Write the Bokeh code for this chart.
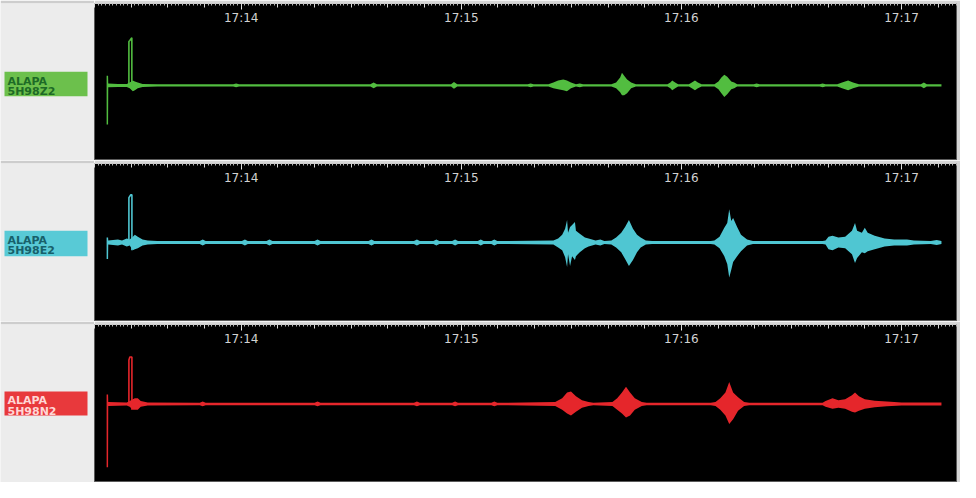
from bokeh.plotting import figure
from bokeh.layouts import column, row
from bokeh.models import (Range1d, LinearAxis, FixedTicker, Label,
                          BoxAnnotation, ColumnDataSource)
from bokeh.embed import file_html
from bokeh.resources import INLINE

# ---------------- time axis (seconds after 17:13:00) ----------------
x_start, x_end = 20.0, 255.0
minute_ticks = [60, 120, 180, 240]
minute_labels = ["17:14", "17:15", "17:16", "17:17"]
ten_sec_ticks = list(range(20, 256, 10))
one_sec_ticks = list(range(20, 256))

station = "ALAPA"
channels = ["5H98Z2", "5H98E2", "5H98N2"]

# ---------------- channel Z (green): envelope ----------------
z_t = [23.30, 23.70, 23.75, 26.4, 28.8, 29.6, 30.45, 31.0, 31.8, 33.1, 37.1,
       57.8, 58.6, 59.4, 95.2, 96.1, 97.0, 117.2, 118.0, 118.9, 138.1, 138.9, 139.7,
       143.75, 145.1, 146.4, 147.8, 148.8, 149.9, 151.25, 152.3, 153.2,
       160.9, 162.2, 163.3, 163.8, 164.4, 165.2, 166.3, 167.6,
       176.2, 177.0, 177.5, 178.3, 179.1,
       182.05, 182.85, 183.7, 184.5, 185.5,
       189.0, 190.1, 190.9, 191.7, 192.5, 193.6, 194.4, 195.2,
       199.7, 200.5, 201.3, 217.7, 218.5, 219.3,
       222.5, 223.8, 225.45, 226.8, 228.4,
       245.3, 246.1, 246.9, 250.9]
z_up = [10, 10, 2, 1.5, 1.5, 3, 5, 4, 3, 1.5, 1.2,
        1.2, 2, 1.2, 1.2, 3, 1.2, 1.2, 3.5, 1.2, 1.2, 2, 1.2,
        1.2, 3, 5, 6, 5, 3, 1.2, 2, 1.2,
        1.2, 3, 8, 13, 10, 6, 3, 1.2,
        1.2, 3, 5, 3, 1.2,
        1.2, 3, 5, 3, 1.2,
        1.2, 4, 8, 11, 9, 4, 3, 1.2,
        1.2, 2, 1.2, 1.2, 2, 1.2,
        1.2, 3, 5, 3, 1.2,
        1.2, 3, 1.2, 1.2]
z_dn = [40, 40, 2, 1.5, 1.5, 3, 6, 5, 3, 1.5, 1.2,
        1.2, 2, 1.2, 1.2, 3, 1.2, 1.2, 3.5, 1.2, 1.2, 2, 1.2,
        1.2, 3, 4, 5, 6, 3, 1.2, 2, 1.2,
        1.2, 3, 7, 10, 10, 8, 3, 1.2,
        1.2, 3, 5, 3, 1.2,
        1.2, 3, 5, 3, 1.2,
        1.2, 4, 8, 12, 9, 4, 3, 1.2,
        1.2, 2, 1.2, 1.2, 2, 1.2,
        1.2, 3, 5, 3, 1.2,
        1.2, 3, 1.2, 1.2]
z_pulse_t = [29.38, 29.38, 29.64, 30.18, 30.18]
z_pulse_a = [0, 45, 46, 49, -4]

# ---------------- channel E (cyan) ----------------
e_t = [23.30, 23.70, 23.75, 26.4, 27.5, 28.8, 29.6, 30.45, 31.0, 31.8, 33.1, 34.5, 37.1,
       48.7, 49.5, 50.3, 60.2, 61.0, 61.8, 66.9, 67.7, 68.5, 80.0, 80.8, 81.6,
       94.7, 95.5, 96.3, 107.1, 107.9, 108.7, 112.4, 113.2, 114.0, 117.5, 118.3, 119.1,
       124.5, 125.3, 126.1, 128.2, 129.0, 129.8,
       145.1, 146.4, 147.5, 148.3, 148.84, 149.1, 149.65, 150.2, 150.98, 151.25,
       152.3, 153.7, 154.7, 156.6, 157.9, 159.0,
       160.9, 162.2, 163.6, 164.65, 165.7, 166.8, 167.9, 168.9, 170.3, 172.0,
       188.0, 189.0, 190.4, 191.7, 192.5, 193.04, 193.6, 194.1, 195.2, 196.25, 197.9, 199.5,
       218.5, 219.3, 220.1, 221.2, 222.8, 224.65, 226.5, 227.33, 227.9, 229.2, 230.0,
       230.8, 232.7, 235.4, 238.0, 241.5, 243.4, 248.0, 249.6, 250.9]
e_up = [5, 5, 2, 3, 2, 4, 3, 6, 8, 6, 3, 2, 1.5,
        1.5, 3, 1.5, 1.5, 3, 1.5, 1.5, 3, 1.5, 1.5, 3, 1.5,
        1.5, 3, 1.5, 1.5, 3, 1.5, 1.5, 3, 1.5, 1.5, 3, 1.5,
        1.5, 3, 1.5, 1.5, 3, 1.5,
        2, 4, 8, 14, 23, 10, 16, 18, 21, 12,
        9, 5, 4, 2, 3, 1.5,
        2, 5, 10, 16, 23, 14, 8, 5, 2, 1.5,
        1.5, 2, 6, 15, 20, 34, 22, 25, 16, 8, 3, 1.5,
        1.5, 2, 6, 7, 5, 6, 12, 20, 12, 10, 15,
        10, 7, 4, 3, 3, 2, 1.5, 2.5, 1.5]
e_dn = [17, 17, 2, 3, 2, 4, 3, 8, 7, 6, 3, 2, 1.5,
        1.5, 3, 1.5, 1.5, 3, 1.5, 1.5, 3, 1.5, 1.5, 3, 1.5,
        1.5, 3, 1.5, 1.5, 3, 1.5, 1.5, 3, 1.5, 1.5, 3, 1.5,
        1.5, 3, 1.5, 1.5, 3, 1.5,
        2, 5, 8, 15, 25, 12, 24, 14, 18, 14,
        10, 6, 4, 2, 3, 1.5,
        2, 5, 10, 17, 24, 18, 10, 5, 2, 1.5,
        1.5, 2, 6, 14, 22, 36, 28, 20, 14, 9, 3, 1.5,
        1.5, 2, 7, 8, 5, 6, 12, 21, 16, 10, 11,
        9, 7, 4, 3, 3, 2, 1.5, 2.5, 1.5]
e_pulse_t = [29.38, 29.38, 29.9, 30.2, 30.2]
e_pulse_a = [0, 46, 49, 49, -8]

# ---------------- channel N (red) ----------------
n_t = [23.30, 23.70, 23.75, 28.8, 29.6, 30.45, 31.0, 31.8, 32.6, 34.5,
       48.7, 49.5, 50.3, 80.0, 80.8, 81.6, 107.1, 107.9, 108.7, 117.5, 118.3, 119.1,
       128.2, 129.0, 129.8,
       145.6, 147.5, 148.84, 149.9, 151.25, 152.9, 154.7, 156.0,
       161.2, 162.5, 163.8, 164.9, 166.0, 167.3, 169.2, 170.5,
       188.0, 189.3, 190.6, 192.0, 193.04, 194.1, 195.45, 197.1, 198.5,
       218.5, 219.3, 221.2, 222.8, 224.65, 226.5, 227.33, 228.4, 230.0, 232.7,
       236.0, 240.0, 250.9]
n_up = [10, 10, 2, 1.5, 3, 5, 6, 6, 3, 1.5,
        1.2, 2.5, 1.2, 1.2, 2.5, 1.2, 1.2, 2.5, 1.2, 1.2, 2.5, 1.2,
        1.2, 2.5, 1.2,
        2, 6, 12, 13, 8, 4, 2, 1.2,
        2, 6, 12, 18, 12, 6, 2, 1.2,
        1.2, 2, 6, 12, 23, 12, 7, 2, 1.2,
        1.2, 3, 6, 4, 5, 9, 12, 8, 5, 3.5,
        2.5, 1.5, 1.5]
n_dn = [66, 66, 2, 1.5, 3, 6, 6, 6, 3, 1.5,
        1.2, 2.5, 1.2, 1.2, 2.5, 1.2, 1.2, 2.5, 1.2, 1.2, 2.5, 1.2,
        1.2, 2.5, 1.2,
        2, 6, 10, 12, 8, 4, 2, 1.2,
        2, 6, 10, 14, 12, 6, 2, 1.2,
        1.2, 2, 6, 12, 21, 16, 7, 2, 1.2,
        1.2, 3, 5, 4, 5, 8, 9, 7, 5, 3.5,
        2.5, 1.5, 1.5]
n_pulse_t = [29.38, 29.38, 29.64, 30.2, 30.2]
n_pulse_a = [0, 46, 49, 49, -6]

trace_colors = ["#52bd40", "#4fc6d2", "#e5262b"]
box_colors = ["#6cc04c", "#58cad6", "#e8393c"]
box_text_colors = ["#1d6a26", "#17606a", "#ffd6d6"]
y_ranges = [(-77, 84), (-81, 81), (-82, 83)]
box_tops = [14, 12, 13]
box_bottoms = [-11, -14, -12]
heights = [160, 161, 161]

series = [(z_t, z_up, z_dn, z_pulse_t, z_pulse_a),
          (e_t, e_up, e_dn, e_pulse_t, e_pulse_a),
          (n_t, n_up, n_dn, n_pulse_t, n_pulse_a)]


def trace_panel(i):
    t, up, dn, pt, pa = series[i]
    lo, hi = y_ranges[i]
    p = figure(width=866, height=heights[i], x_range=Range1d(x_start, x_end),
               y_range=Range1d(lo, hi), toolbar_location=None, output_backend="svg",
               x_axis_type=None, y_axis_type=None,
               background_fill_color="black", border_fill_color="#d6d6d6",
               min_border_left=0, min_border_right=4, min_border_top=3, min_border_bottom=0,
               outline_line_color="#5a5a5a")
    # 1-second ticks only (no major ticks, hence no labels)
    ax_sec = LinearAxis(ticker=FixedTicker(ticks=[], minor_ticks=one_sec_ticks),
                        major_tick_in=0, major_tick_out=0, minor_tick_in=2, minor_tick_out=0,
                        minor_tick_line_color="#b8b8b8", axis_line_color="#cfcfcf",
                        major_label_standoff=0)
    p.add_layout(ax_sec, "above")
    # minute ticks with labels drawn inside the frame, 10-second minor ticks
    ax_min = LinearAxis(ticker=FixedTicker(ticks=minute_ticks, minor_ticks=ten_sec_ticks),
                        major_tick_in=6, major_tick_out=0, minor_tick_in=4, minor_tick_out=0,
                        major_tick_line_color="#eeeeee", minor_tick_line_color="#d8d8d8",
                        axis_line_color=None,
                        major_label_overrides={float(v): s for v, s in zip(minute_ticks, minute_labels)},
                        major_label_standoff=-21,
                        major_label_text_color="#d2d2d2", major_label_text_font_size="12px",
                        major_label_text_font="DejaVu Sans")
    p.add_layout(ax_min, "above")

    src = ColumnDataSource(dict(t=t, upper=up, lower=[-d for d in dn]))
    p.varea(x="t", y1="lower", y2="upper", source=src, fill_color=trace_colors[i])
    p.line(pt, pa, line_color=trace_colors[i], line_width=1.6)
    return p


def label_panel(i):
    lo, hi = y_ranges[i]
    p = figure(width=94, height=heights[i], x_range=Range1d(0, 94), y_range=Range1d(lo, hi),
               toolbar_location=None, output_backend="svg",
               x_axis_type=None, y_axis_type=None,
               background_fill_color="#ececec", border_fill_color="#cdcdcd",
               min_border_left=0, min_border_right=0, min_border_top=3, min_border_bottom=0,
               outline_line_color=None)
    p.add_layout(BoxAnnotation(left=4, right=87, bottom=box_bottoms[i], top=box_tops[i],
                               fill_color=box_colors[i], fill_alpha=1.0, line_color=None))
    for k, txt in enumerate([station, channels[i]]):
        p.add_layout(Label(x=7, y=box_tops[i] - 9.5 - 11 * k, text=txt,
                           text_baseline="alphabetic", text_font_size="11px",
                           text_font="DejaVu Sans", text_font_style="bold",
                           text_color=box_text_colors[i]))
    return p


layout = column(*[row(label_panel(i), trace_panel(i)) for i in range(3)])

open("out.html", "w").write(file_html(layout, INLINE))
